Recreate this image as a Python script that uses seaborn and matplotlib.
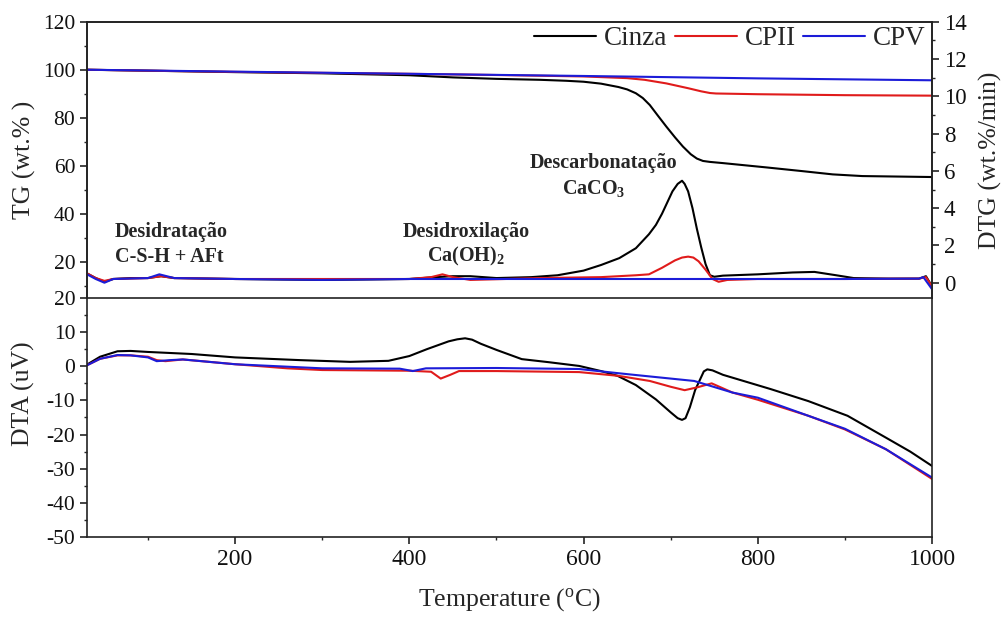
import numpy as np
import pandas as pd
import matplotlib
matplotlib.use("Agg")
import matplotlib.pyplot as plt
from matplotlib.ticker import MultipleLocator
import seaborn as sns

# ---------------- data ----------------
series_names = ["Cinza", "CPII", "CPV"]
series_colors = ["#000000", "#e01b1b", "#1c1cd8"]

# TG (wt.%)
tg_cinza_t = [30, 100, 200, 300, 400, 450, 500, 550, 580, 600, 620, 640, 650, 660, 668, 676, 685, 695, 705, 714, 723, 730, 737, 745, 760, 810, 850, 886, 920, 1000]
tg_cinza_v = [100, 99.6, 99.0, 98.5, 97.7, 96.8, 96.2, 95.8, 95.4, 95.0, 94.2, 92.8, 91.8, 90.2, 88.2, 85.3, 81.0, 76.3, 71.8, 68.0, 64.8, 63.0, 62.0, 61.6, 61.1, 59.3, 57.8, 56.4, 55.7, 55.3]
tg_cpii_t = [30, 100, 200, 300, 400, 500, 600, 650, 670, 695, 720, 735, 745, 752, 800, 900, 1000]
tg_cpii_v = [100, 99.6, 99.1, 98.7, 98.3, 97.8, 97.2, 96.5, 95.8, 94.3, 92.3, 91.0, 90.3, 90.1, 89.8, 89.4, 89.2]
tg_cpv_t = [30, 200, 400, 600, 800, 1000]
tg_cpv_v = [100, 99.2, 98.3, 97.4, 96.4, 95.6]

# DTG (wt.%/min)
dtg_cinza_t = [30, 40, 50, 60, 80, 100, 115, 130, 200, 300, 400, 430, 450, 470, 500, 540, 570, 600, 620, 641, 660, 675, 683, 690, 697, 702, 708, 713, 716, 720, 725, 730, 735, 740, 745, 750, 760, 800, 840, 865, 890, 910, 950, 985, 993, 1000]
dtg_cinza_v = [0.5, 0.25, 0.05, 0.2, 0.25, 0.25, 0.35, 0.25, 0.2, 0.15, 0.2, 0.3, 0.35, 0.35, 0.25, 0.3, 0.4, 0.65, 0.95, 1.32, 1.85, 2.6, 3.1, 3.7, 4.4, 4.9, 5.3, 5.47, 5.3, 4.9, 4.0, 2.9, 1.9, 1.0, 0.4, 0.32, 0.38, 0.45, 0.55, 0.58, 0.4, 0.25, 0.22, 0.22, 0.35, -0.2]
dtg_cpii_t = [30, 40, 50, 60, 100, 115, 130, 200, 300, 400, 425, 438, 450, 470, 550, 620, 660, 675, 690, 705, 713, 720, 726, 732, 740, 748, 755, 765, 800, 900, 985, 993, 1000]
dtg_cpii_v = [0.5, 0.25, 0.1, 0.2, 0.25, 0.35, 0.25, 0.2, 0.2, 0.2, 0.3, 0.45, 0.3, 0.15, 0.25, 0.3, 0.4, 0.45, 0.8, 1.2, 1.35, 1.4, 1.35, 1.15, 0.7, 0.2, 0.05, 0.15, 0.2, 0.2, 0.22, 0.3, -0.2]
dtg_cpv_t = [30, 40, 50, 60, 100, 113, 130, 200, 300, 400, 450, 500, 600, 700, 800, 900, 985, 990, 1000]
dtg_cpv_v = [0.45, 0.2, 0.0, 0.2, 0.25, 0.45, 0.25, 0.2, 0.15, 0.2, 0.2, 0.2, 0.2, 0.2, 0.2, 0.2, 0.22, 0.3, -0.35]

# DTA (uV)
dta_cinza_t = [30, 45, 65, 80, 100, 150, 200, 275, 332, 376, 400, 420, 445, 455, 464, 472, 482, 500, 529, 560, 595, 620, 639, 660, 683, 700, 708, 713, 717, 722, 728, 738, 742, 748, 760, 815, 858, 903, 947, 975, 1000]
dta_cinza_v = [0.5, 2.8, 4.4, 4.5, 4.2, 3.6, 2.6, 1.8, 1.3, 1.6, 3.0, 5.0, 7.3, 7.9, 8.2, 7.8, 6.6, 4.8, 2.1, 1.2, 0.1, -1.4, -2.8, -5.5, -9.7, -13.5, -15.2, -15.7, -15.2, -12.0, -7.0, -1.5, -0.9, -1.2, -2.5, -6.7, -10.2, -14.5, -20.9, -25.0, -29.2]
dta_cpii_t = [30, 45, 65, 80, 100, 110, 120, 140, 200, 260, 300, 400, 425, 436, 447, 457, 500, 595, 640, 676, 700, 716, 730, 747, 771, 800, 858, 900, 947, 1000]
dta_cpii_v = [0.3, 2.2, 3.2, 3.2, 2.8, 1.8, 1.5, 2.0, 0.6, -0.6, -1.1, -1.3, -1.6, -3.6, -2.5, -1.4, -1.4, -1.7, -2.8, -4.3, -6.0, -7.0, -6.2, -5.0, -7.7, -9.8, -14.5, -18.5, -24.3, -33.0]
dta_cpv_t = [30, 45, 65, 80, 100, 110, 125, 140, 200, 300, 389, 404, 419, 500, 595, 650, 700, 727, 771, 800, 858, 900, 947, 1000]
dta_cpv_v = [0.3, 2.2, 3.3, 3.2, 2.6, 1.5, 1.8, 2.0, 0.6, -0.6, -0.7, -1.4, -0.6, -0.5, -0.8, -2.3, -3.6, -4.3, -7.7, -9.2, -14.5, -18.3, -24.3, -32.6]

x_ticks = [200, 400, 600, 800, 1000]
tg_ticks = [20, 40, 60, 80, 100, 120]
dtg_ticks = [0, 2, 4, 6, 8, 10, 12, 14]
dta_ticks = [-50, -40, -30, -20, -10, 0, 10, 20]

# ---------------- style ----------------
sns.set_style("ticks")
plt.rcParams["font.family"] = ["Liberation Serif", "DejaVu Serif"]
plt.rcParams["mathtext.fontset"] = "custom"
plt.rcParams["mathtext.rm"] = "Liberation Serif"
plt.rcParams["mathtext.it"] = "Liberation Serif:italic"
plt.rcParams["mathtext.bf"] = "Liberation Serif:bold"
plt.rcParams["axes.unicode_minus"] = False

fig = plt.figure(figsize=(10.06, 6.17), dpi=100)
L, W = 0.0865, 0.8400
ax1 = fig.add_axes([L, 0.5170, W, 0.4478])
ax2 = fig.add_axes([L, 0.1297, W, 0.3873], sharex=ax1)
ax1r = ax1.twinx()

lw = 1.5
tg_sets = [(tg_cinza_t, tg_cinza_v), (tg_cpii_t, tg_cpii_v), (tg_cpv_t, tg_cpv_v)]
dtg_sets = [(dtg_cinza_t, dtg_cinza_v), (dtg_cpii_t, dtg_cpii_v), (dtg_cpv_t, dtg_cpv_v)]
dta_sets = [(dta_cinza_t, dta_cinza_v), (dta_cpii_t, dta_cpii_v), (dta_cpv_t, dta_cpv_v)]

for (t, v), name, c in zip(tg_sets, series_names, series_colors):
    sns.lineplot(x=t, y=v, ax=ax1, color=c, lw=lw, sort=False, estimator=None, label=name, legend=False)
for (t, v), c in zip(dtg_sets, series_colors):
    sns.lineplot(x=t, y=v, ax=ax1r, color=c, lw=lw, sort=False, estimator=None, legend=False)
for (t, v), c in zip(dta_sets, series_colors):
    sns.lineplot(x=t, y=v, ax=ax2, color=c, lw=lw, sort=False, estimator=None, legend=False)

handles = ax1.get_lines()[:3]

lab_fs = 18.5
spine_lw = 1.2

# x axis
ax2.set_xlim(30, 1000)
ax2.set_xticks(x_ticks)
ax2.xaxis.set_minor_locator(MultipleLocator(100))

# TG axis
ax1.set_ylim(4.9, 120)
ax1.set_yticks(tg_ticks)
ax1.yaxis.set_minor_locator(MultipleLocator(10))
ax1.tick_params(axis="x", which="both", bottom=False, labelbottom=False)
ax1.spines["bottom"].set_visible(False)

# DTG axis
ax1r.set_ylim(-0.82, 14)
ax1r.set_yticks(dtg_ticks)
ax1r.yaxis.set_minor_locator(MultipleLocator(1))
ax1r.spines["bottom"].set_visible(False)

# DTA axis
ax2.set_ylim(-50, 20)
ax2.set_yticks(dta_ticks)
ax2.yaxis.set_minor_locator(MultipleLocator(5))

for ax in (ax1, ax1r, ax2):
    for s in ax.spines.values():
        s.set_linewidth(spine_lw)
        s.set_color("#222222")
    ax.tick_params(which="major", direction="out", length=5, width=1.1, colors="#111111")
    ax.tick_params(which="minor", direction="out", length=2.5, width=1.0)
    ax.set_xlabel("")
ax1.tick_params(axis="y", labelsize=15.5)
ax2.tick_params(axis="y", labelsize=15.5)
ax2.tick_params(axis="x", labelsize=17)
ax1r.tick_params(axis="y", labelsize=16.5)
ax2.spines["right"].set_visible(True)
ax2.spines["top"].set_visible(True)
ax2.tick_params(axis="y", which="both", right=False)
ax1.spines["top"].set_visible(True)
ax1.spines["right"].set_visible(True)

ax1.set_ylabel("TG (wt.% )", fontsize=lab_fs)
ax1.yaxis.set_label_coords(-0.060, 0.5)
ax1r.set_ylabel("DTG (wt.%/min)", fontsize=lab_fs)
ax1r.yaxis.set_label_coords(1.056, 0.5)
ax2.set_ylabel("DTA (uV)", fontsize=lab_fs)
ax2.yaxis.set_label_coords(-0.062, 0.60)
ax2.set_xlabel(r"Temperature ($^{\mathrm{o}}$C)", fontsize=lab_fs)
ax2.xaxis.set_label_coords(0.5, -0.205)

# annotations
ann_fs = 14.5
ax1.text(62, 32.5, "Desidratação", fontsize=ann_fs, fontweight="bold", ha="left", va="center")
ax1.text(62, 22.0, "C-S-H + AFt", fontsize=ann_fs, fontweight="bold", ha="left", va="center")
ax1.text(465, 32.5, "Desidroxilação", fontsize=ann_fs, fontweight="bold", ha="center", va="center")
ax1.text(465, 22.0, r"Ca(OH)$_\mathbf{2}$", fontsize=ann_fs, fontweight="bold", ha="center", va="center")
ax1.text(623, 61.1, "Descarbonatação", fontsize=ann_fs, fontweight="bold", ha="center", va="center")
ax1.text(612, 50.7, r"CaCO$_\mathbf{3}$", fontsize=ann_fs, fontweight="bold", ha="center", va="center")

leg = ax1r.legend(handles, series_names, loc="upper right",
                  bbox_to_anchor=(926 / 1006, 1 - 26 / 617), bbox_transform=fig.transFigure,
                  ncol=3, frameon=False, fontsize=19.5, handlelength=2.3, handletextpad=0.3,
                  columnspacing=0.25, borderaxespad=0, borderpad=0)

fig.savefig("out.png", dpi=100, facecolor="white")
